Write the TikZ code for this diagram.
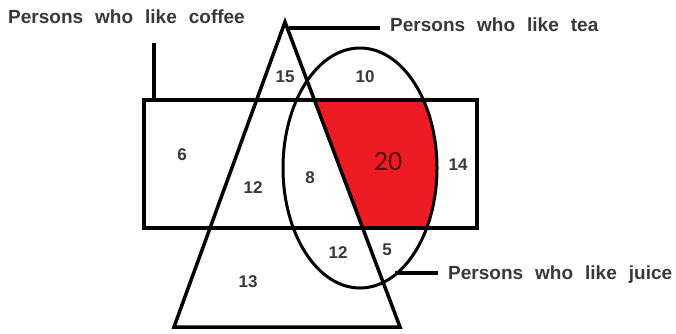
\documentclass[tikz,border=0pt]{standalone}
\usepackage{fontspec}
\setmainfont{Liberation Sans}
\newfontfamily\bignum{Carlito}
\definecolor{paintred}{HTML}{ED1C24}
\definecolor{labelgray}{HTML}{383838}
\definecolor{darkred}{HTML}{5C0808}
\newcommand\capfont{\fontsize{19}{22}\selectfont\bfseries\spaceskip=12pt\relax}

\begin{document}
\begin{tikzpicture}[x=1pt,y=-1pt,
  setline/.style={line width=3.5pt,line join=miter},
  lead/.style={line width=3.5pt},
  caption/.style={font=\capfont,text=labelgray,inner sep=0pt,anchor=west},
  num/.style={font=\fontsize{17}{20}\selectfont\bfseries,text=labelgray,inner sep=0pt}]
  \useasboundingbox (0,0) rectangle (676,333);
  % corner points of the sets
  \coordinate (apex) at (285,22);
  \coordinate (triL) at (174,327);
  \coordinate (triR) at (400,327);
  \coordinate (boxnw) at (144,100);
  \coordinate (boxse) at (477,228);
  \coordinate (teamid) at (360,168);
  % red part
  \begin{scope}
    \clip (boxnw) rectangle (boxse);
    \clip (apex) -- (triR) -- (676,327) -- (676,22) -- cycle;
    \fill[paintred] (teamid) ellipse [x radius=77, y radius=120];
  \end{scope}
  \draw[setline] (boxnw) rectangle (boxse);
  \draw[setline] (apex) -- (triL) -- (triR) -- cycle;
  \draw[line width=3pt] (teamid) ellipse [x radius=77, y radius=120];
  % labels and leaders
  \node[caption] (coffee) at (8,17) {Persons who like coffee};
  \node[caption] (tea) at (390,25) {Persons who like tea};
  \node[caption] (juice) at (448,275) {Persons who like juice};
  \coordinate (coffeeend) at (154,43);
  \coordinate (teastart) at (289,28);
  \coordinate (teaend) at (380,28);
  \coordinate (juicestart) at (395,273);
  \coordinate (juiceend) at (438,273);
  \draw[lead] (coffeeend) -- (coffeeend |- boxnw);
  \draw[lead] (teastart) -- (teaend);
  \draw[lead] (juicestart) -- (juiceend);
  % numbers
  \node[num] (n15) at (285,77) {15};
  \node[num] (n10) at (365,77) {10};
  \node[num] (n6) at (182,155) {6};
  \node[num] (n12a) at (253,188) {12};
  \node[num] (n8) at (310,178) {8};
  \node[inner sep=0pt,text=darkred,font=\bignum\fontsize{28}{30}\selectfont] (n20) at (388,162) {20};
  \node[num] (n14) at (458,165) {14};
  \node[num] (n12b) at (338,253) {12};
  \node[num] (n5) at (387,250) {5};
  \node[num] (n13) at (248,282) {13};
\end{tikzpicture}
\end{document}
